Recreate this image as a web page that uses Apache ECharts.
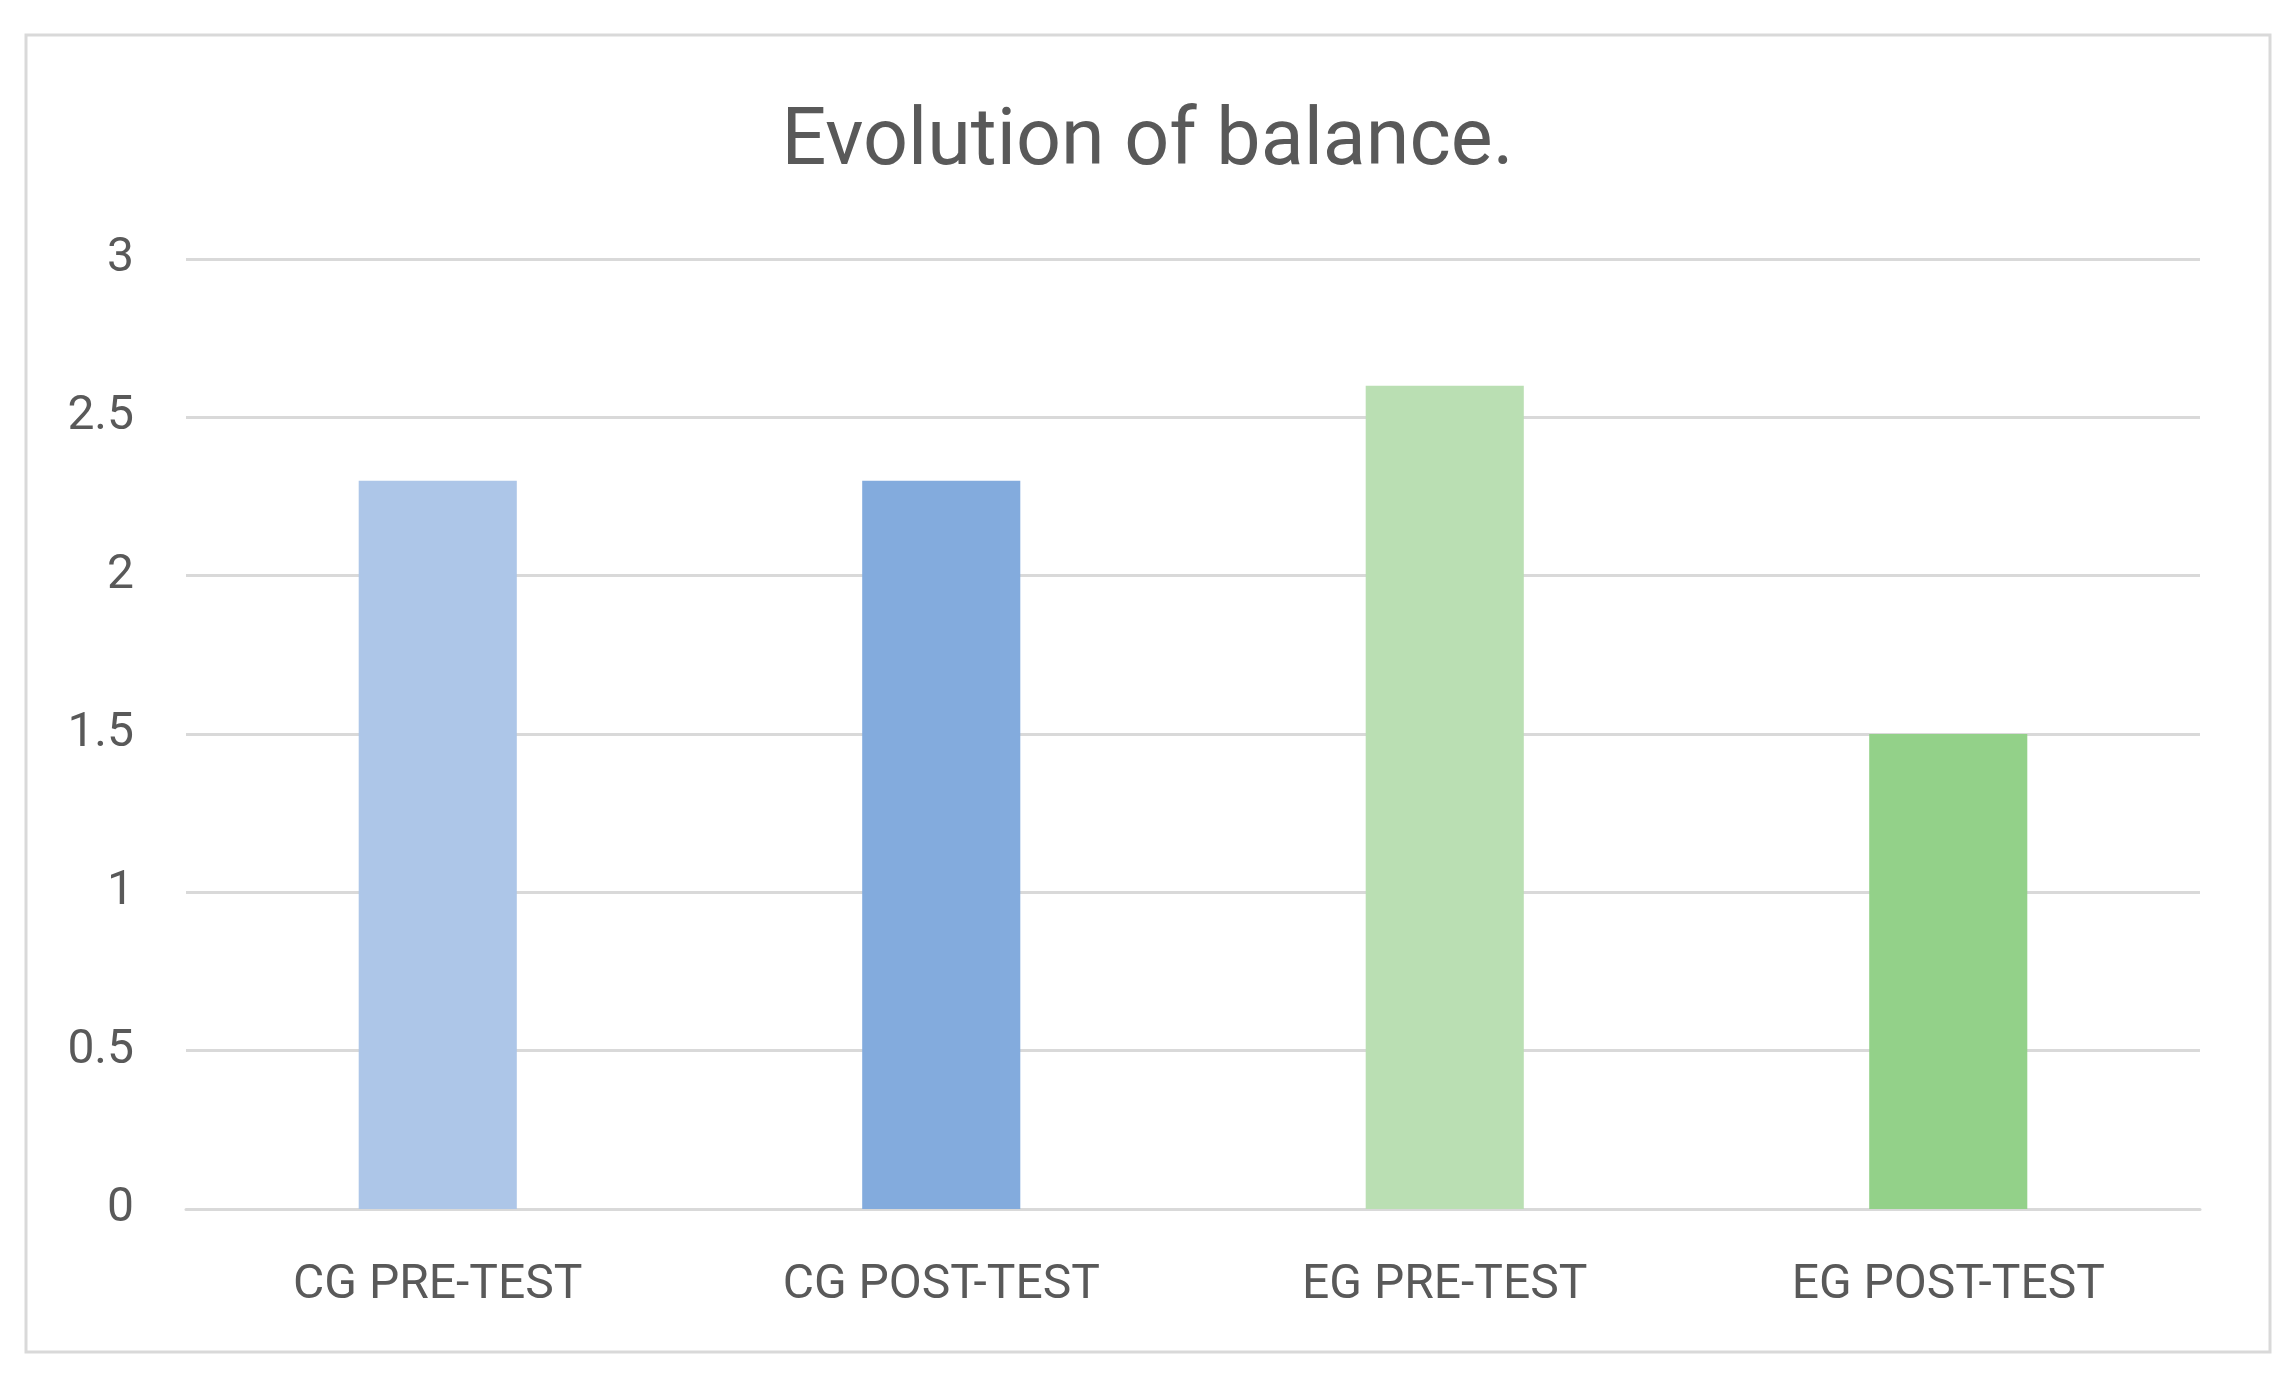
<!DOCTYPE html>
<html>
<head>
<meta charset="utf-8">
<script src="https://cdn.jsdelivr.net/npm/echarts@6/dist/echarts.min.js"></script>
<style>
html,body{margin:0;padding:0;background:#fff;}
#chart{width:2295px;height:1379px;}
</style>
</head>
<body>
<div id="chart"></div>
<script>
const titleText = "Evolution of balance.";
const categories = ["CG PRE-TEST", "CG POST-TEST", "EG PRE-TEST", "EG POST-TEST"];
const values = [2.3, 2.3, 2.6, 1.5];
const barColors = ["#adc6e8", "#83abdd", "#badfb3", "#93d189"];
const yMin = 0, yMax = 3, yInterval = 0.5;

const chart = echarts.init(document.getElementById('chart'), null, {renderer: 'canvas'});
const font = "Roboto, 'Liberation Sans', sans-serif";
chart.setOption({
  backgroundColor: '#ffffff',
  animation: false,
  title: {
    text: titleText,
    left: 'center',
    top: 100,
    textStyle: {fontFamily: font, fontSize: 79, fontWeight: 'normal', color: '#595959'}
  },
  graphic: [{
    type: 'rect',
    shape: {x: 26, y: 35, width: 2244, height: 1317},
    style: {fill: 'none', stroke: '#d9d9d9', lineWidth: 3},
    silent: true, z: -1
  }],
  grid: {left: 186, right: 95, top: 259, bottom: 170, containLabel: false},
  xAxis: {
    type: 'category',
    data: categories,
    axisLine: {show: true, lineStyle: {color: '#d9d9d9', width: 3}},
    axisTick: {show: false},
    axisLabel: {color: '#595959', fontFamily: font, fontSize: 48, margin: 53}
  },
  yAxis: {
    type: 'value',
    min: yMin, max: yMax, interval: yInterval,
    axisLine: {show: false},
    axisTick: {show: false},
    splitLine: {lineStyle: {color: '#d9d9d9', width: 3}},
    axisLabel: {color: '#595959', fontFamily: font, fontSize: 48, margin: 52,
      padding: [4, 0, 0, 0],
      formatter: v => String(v)}
  },
  series: [{
    type: 'bar',
    data: values.map((v, i) => ({value: v, itemStyle: {color: barColors[i]}})),
    barWidth: '31.4%'
  }]
});
</script>
</body>
</html>
